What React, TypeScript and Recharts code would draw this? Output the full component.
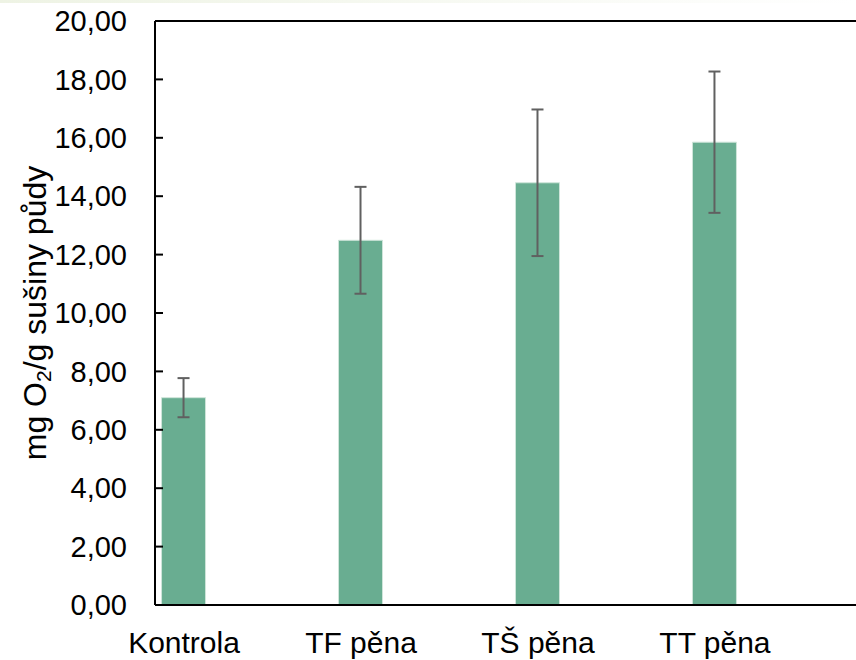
import React from "react"
import {
  BarChart,
  Bar,
  XAxis,
  YAxis,
  ErrorBar,
  ReferenceLine,
} from "recharts"

const categories = ["Kontrola", "TF pěna", "TŠ pěna", "TT pěna"]
const means = [7.1, 12.49, 14.46, 15.85]
const errors = [0.67, 1.83, 2.51, 2.42]
const yTicks = [0, 2, 4, 6, 8, 10, 12, 14, 16, 18, 20]

const FONT = "'Liberation Sans', Arial, sans-serif"
const BAR_COLOR = "#69ad91"

const chartData = categories.map((name, i) => ({
  idx: i,
  name,
  value: means[i],
  err: errors[i],
}))

const fmt = (v: number) => v.toFixed(2).replace(".", ",")

function YTitle(props: any) {
  const { viewBox } = props
  const cy = viewBox.y + viewBox.height / 2
  const cx = 35
  return (
    <text
      x={cx}
      y={cy}
      transform={`rotate(-90, ${cx}, ${cy})`}
      textAnchor="middle"
      dominantBaseline="central"
      fontFamily={FONT}
      fontSize={32}
      fill="#000"
    >
      mg O<tspan fontSize={21} dy={8}>2</tspan>
      <tspan dy={-8}>/g sušiny půdy</tspan>
    </text>
  )
}

export default function App() {
  return (
    <div style={{ width: 856, height: 660, position: "relative", background: "#fff" }}>
      <style>{`body { margin: 0; }`}</style>
      <div
        style={{
          position: "absolute",
          left: 0,
          top: 0,
          width: 856,
          height: 3,
          background: "linear-gradient(to right, #eef3e4, #ffffff)",
        }}
      />
      <BarChart
        width={856}
        height={660}
        data={chartData}
        margin={{ top: 21, right: 0, left: 0, bottom: 0 }}
      >
        <XAxis
          type="number"
          dataKey="idx"
          domain={[-0.164, 3.797]}
          allowDataOverflow
          ticks={[0, 1, 2, 3]}
          tickFormatter={(v) => categories[v] ?? ""}
          height={55}
          tickLine={false}
          tickMargin={21}
          axisLine={{ stroke: "#000", strokeWidth: 2 }}
          tick={{ fill: "#000", fontSize: 30, fontFamily: FONT }}
        />
        <YAxis
          domain={[0, 20]}
          ticks={yTicks}
          width={155}
          tickFormatter={fmt}
          tickSize={-8}
          tickMargin={36}
          tickLine={{ stroke: "#000", strokeWidth: 2 }}
          axisLine={{ stroke: "#000", strokeWidth: 2 }}
          tick={{ fill: "#000", fontSize: 29, fontFamily: FONT }}
          label={<YTitle />}
        />
        <ReferenceLine y={20} stroke="#000" strokeWidth={2} ifOverflow="extendDomain" />
        <Bar
          dataKey="value"
          fill={BAR_COLOR}
          stroke="#cfe5da"
          strokeWidth={1}
          barSize={44}
          isAnimationActive={false}
        >
          <ErrorBar
            dataKey="err"
            width={6}
            stroke="#606060"
            strokeWidth={2}
            isAnimationActive={false}
          />
        </Bar>
      </BarChart>
    </div>
  )
}
